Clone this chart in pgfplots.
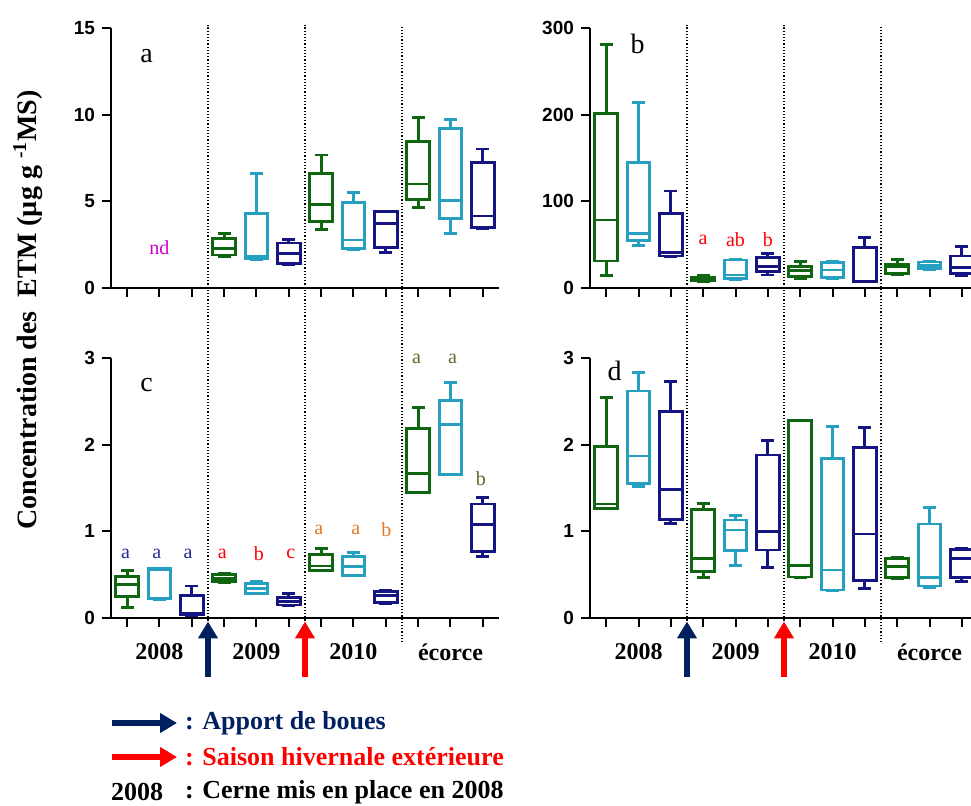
\documentclass[border=0pt]{standalone}
\usepackage{fontspec}
\setmainfont{Liberation Serif}
\newfontfamily\sansb{Liberation Sans}
\usepackage{pgfplots}
\pgfplotsset{compat=1.18}
\usepgfplotslibrary{statistics}
\usetikzlibrary{arrows.meta}
\definecolor{cgreen}{RGB}{16,102,16}
\definecolor{ccyan}{RGB}{38,160,192}
\definecolor{cnavy}{RGB}{20,20,130}
\definecolor{lnavy}{RGB}{0,32,96}
\definecolor{cmag}{RGB}{204,0,204}
\definecolor{anavy}{RGB}{40,40,150}
\definecolor{corange}{RGB}{230,120,40}
\definecolor{colive}{RGB}{85,110,40}
\pgfplotsset{
  panel/.style={
    scale only axis, width=194pt, height=130pt,
    xmin=0.5, xmax=12.5, ymin=0,
    axis lines=left, axis line style={-, line width=1.3pt, black},
    xtick={1,...,12}, xticklabels={},
    tick align=outside, major tick length=4.5pt,
    major tick style={black, line width=1pt},
    ticklabel style={font=\sansb\bfseries\fontsize{9.5}{9.5}\selectfont},
    /pgf/number format/assume math mode=true,
    clip=false,
    boxplot/draw direction=y, boxplot/box extend=0.7, boxplot/whisker extend=0.4,
  },
  G/.style={draw=cgreen, line width=1.4pt, solid, fill=none, mark=none,
    boxplot/draw/median/.code={\draw[cgreen, line width=1.4pt] (boxplot box cs:\pgfplotsboxplotvalue{median},0) -- (boxplot box cs:\pgfplotsboxplotvalue{median},1);}},
  C/.style={draw=ccyan, line width=1.4pt, solid, fill=none, mark=none,
    boxplot/draw/median/.code={\draw[ccyan, line width=1.4pt] (boxplot box cs:\pgfplotsboxplotvalue{median},0) -- (boxplot box cs:\pgfplotsboxplotvalue{median},1);}},
  N/.style={draw=cnavy, line width=1.4pt, solid, fill=none, mark=none,
    boxplot/draw/median/.code={\draw[cnavy, line width=1.4pt] (boxplot box cs:\pgfplotsboxplotvalue{median},0) -- (boxplot box cs:\pgfplotsboxplotvalue{median},1);}},
}
\newcommand{\bx}[7]{\addplot[#1, boxplot prepared={draw position=#2, lower whisker=#3, lower quartile=#4, median=#5, upper quartile=#6, upper whisker=#7}] coordinates {};}
\newcommand{\lt}[4]{\node[font=\fontsize{10}{10}\selectfont, text=#1] at (axis cs:#2,#3) {#4};}
\newcommand{\yr}[2]{\node[font=\bfseries\fontsize{12}{12}\selectfont] at (axis cs:#1,-0.39) {#2};}
\tikzset{uparr/.style={line width=3.3pt, -{Triangle[width=9.5pt,length=8.5pt]}},
  dotl/.style={line width=0.7pt, dash pattern=on 0.6pt off 1pt}}
\begin{document}
\begin{tikzpicture}
% ---------- panel a
\begin{axis}[panel, at={(55.5pt,258.5pt)}, anchor=south west, ymax=15, ytick={0,5,10,15}]
\bx{G}{4}{1.81}{1.90}{2.29}{2.87}{3.15}
\bx{C}{5}{1.65}{1.70}{1.80}{4.30}{6.60}
\bx{N}{6}{1.33}{1.42}{2.00}{2.60}{2.80}
\bx{G}{7}{3.38}{3.83}{4.80}{6.60}{7.67}
\bx{C}{8}{2.23}{2.29}{2.77}{4.92}{5.50}
\bx{N}{9}{2.06}{2.35}{3.73}{4.40}{4.42}
\bx{G}{10}{4.65}{5.12}{6.00}{8.44}{9.83}
\bx{C}{11}{3.15}{4.02}{5.04}{9.21}{9.73}
\bx{N}{12}{3.44}{3.48}{4.15}{7.25}{8.02}
\lt{cmag}{2}{2.35}{nd}
\node[font=\fontsize{14}{14}\selectfont] at (axis cs:1.6,13.4) {a};
\end{axis}
% ---------- panel b
\begin{axis}[panel, at={(295pt,258.5pt)}, anchor=south west, ymax=300, ytick={0,100,200,300}]
\bx{G}{1}{14.6}{31.2}{78.5}{201.5}{281}
\bx{C}{2}{48.8}{54.6}{63}{144.6}{214}
\bx{N}{3}{36}{37}{41}{86}{112}
\bx{G}{4}{7.3}{8}{10}{12.3}{14.6}
\bx{C}{5}{9.2}{11}{15}{32.3}{33}
\bx{N}{6}{15}{18.8}{24.6}{35.4}{40}
\bx{G}{7}{11}{13}{20}{24.6}{30.4}
\bx{C}{8}{11}{12.3}{20.8}{29.6}{30.4}
\bx{N}{9}{7.3}{7.5}{8}{47}{58.5}
\bx{G}{10}{16}{17}{24.6}{27.7}{33}
\bx{C}{11}{21.5}{22.3}{26}{30}{30.8}
\bx{N}{12}{13.8}{17}{23.5}{37}{47.7}
\lt{red}{4}{56}{a}
\lt{red}{5}{56}{ab}
\lt{red}{6}{56}{b}
\node[font=\fontsize{14}{14}\selectfont] at (axis cs:1.97,282) {b};
\end{axis}
% ---------- panel c
\begin{axis}[panel, at={(55.5pt,93.5pt)}, anchor=south west, ymax=3, ytick={0,1,2,3}]
\bx{G}{1}{0.123}{0.246}{0.39}{0.477}{0.546}
\bx{C}{2}{0.215}{0.227}{0.56}{0.573}{0.575}
\bx{N}{3}{0.023}{0.035}{0.05}{0.258}{0.37}
\bx{G}{4}{0.41}{0.42}{0.458}{0.50}{0.515}
\bx{C}{5}{0.277}{0.285}{0.34}{0.40}{0.42}
\bx{N}{6}{0.138}{0.15}{0.19}{0.235}{0.285}
\bx{G}{7}{0.546}{0.548}{0.60}{0.735}{0.80}
\bx{C}{8}{0.485}{0.487}{0.592}{0.708}{0.758}
\bx{N}{9}{0.17}{0.177}{0.258}{0.304}{0.323}
\bx{G}{10}{1.45}{1.452}{1.67}{2.19}{2.43}
\bx{C}{11}{1.65}{1.652}{2.23}{2.51}{2.72}
\bx{N}{12}{0.708}{0.765}{1.08}{1.315}{1.39}
\lt{anavy}{0.95}{0.74}{a}
\lt{anavy}{1.92}{0.74}{a}
\lt{anavy}{2.88}{0.74}{a}
\lt{red}{3.94}{0.74}{a}
\lt{red}{5.07}{0.74}{b}
\lt{red}{6.06}{0.74}{c}
\lt{corange}{6.93}{1.015}{a}
\lt{corange}{8.07}{1.015}{a}
\lt{corange}{9.02}{1.015}{b}
\lt{colive}{9.95}{2.985}{a}
\lt{colive}{11.06}{2.985}{a}
\lt{colive}{11.94}{1.61}{b}
\node[font=\fontsize{14}{14}\selectfont] at (axis cs:1.6,2.69) {c};
\draw[dotl] (axis cs:3.5,-0.03) -- (axis cs:3.5,6.84);
\draw[dotl] (axis cs:6.5,-0.03) -- (axis cs:6.5,6.84);
\draw[dotl] (axis cs:9.5,-0.28) -- (axis cs:9.5,6.84);
\draw[uparr, lnavy] (axis cs:3.5,-0.68) -- (axis cs:3.5,-0.04);
\draw[uparr, red] (axis cs:6.5,-0.68) -- (axis cs:6.5,-0.04);
\yr{2}{2008}
\yr{5}{2009}
\yr{8}{2010}
\yr{11}{écorce}
\end{axis}
% ---------- panel d
\begin{axis}[panel, at={(295pt,93.5pt)}, anchor=south west, ymax=3, ytick={0,1,2,3}]
\bx{G}{1}{1.265}{1.267}{1.315}{1.977}{2.54}
\bx{C}{2}{1.52}{1.55}{1.87}{2.62}{2.835}
\bx{N}{3}{1.09}{1.14}{1.485}{2.38}{2.73}
\bx{G}{4}{0.47}{0.535}{0.69}{1.254}{1.32}
\bx{C}{5}{0.61}{0.777}{1.015}{1.13}{1.18}
\bx{N}{6}{0.585}{0.785}{1.0}{1.88}{2.05}
\bx{G}{7}{0.47}{0.472}{0.61}{2.28}{2.282}
\bx{C}{8}{0.315}{0.323}{0.554}{1.84}{2.21}
\bx{N}{9}{0.342}{0.43}{0.97}{1.965}{2.2}
\bx{G}{10}{0.458}{0.47}{0.592}{0.69}{0.696}
\bx{C}{11}{0.354}{0.37}{0.47}{1.085}{1.273}
\bx{N}{12}{0.42}{0.47}{0.69}{0.79}{0.80}
\node[font=\fontsize{14}{14}\selectfont] at (axis cs:1.26,2.85) {d};
\draw[dotl] (axis cs:3.5,-0.03) -- (axis cs:3.5,6.84);
\draw[dotl] (axis cs:6.5,-0.03) -- (axis cs:6.5,6.84);
\draw[dotl] (axis cs:9.5,-0.28) -- (axis cs:9.5,6.84);
\draw[uparr, lnavy] (axis cs:3.5,-0.68) -- (axis cs:3.5,-0.04);
\draw[uparr, red] (axis cs:6.5,-0.68) -- (axis cs:6.5,-0.04);
\yr{2}{2008}
\yr{5}{2009}
\yr{8}{2010}
\yr{11}{écorce}
\end{axis}
% ---------- y title
\node[rotate=90, font=\bfseries\fontsize{14}{14}\selectfont] at (14pt,247.5pt) {Concentration des\ \ ETM (µg g \textsuperscript{-1}MS)};
% ---------- legend
\draw[uparr, lnavy] (56pt,41pt) -- (88.5pt,41pt);
\node[anchor=west, text=lnavy, font=\bfseries\fontsize{13}{13}\selectfont] at (89pt,41pt) {: Apport de boues};
\draw[uparr, red] (56pt,24pt) -- (88.5pt,24pt);
\node[anchor=west, text=red, font=\bfseries\fontsize{13}{13}\selectfont] at (89pt,24pt) {: Saison hivernale extérieure};
\node[anchor=west, font=\bfseries\fontsize{13}{13}\selectfont] at (52pt,6.5pt) {2008};
\node[anchor=west, font=\bfseries\fontsize{13}{13}\selectfont] at (89pt,6.5pt) {: Cerne mis en place en 2008};
\pgfresetboundingbox
\path[use as bounding box] (0,0) rectangle (485.5pt,402.5pt);
\end{tikzpicture}
\end{document}
